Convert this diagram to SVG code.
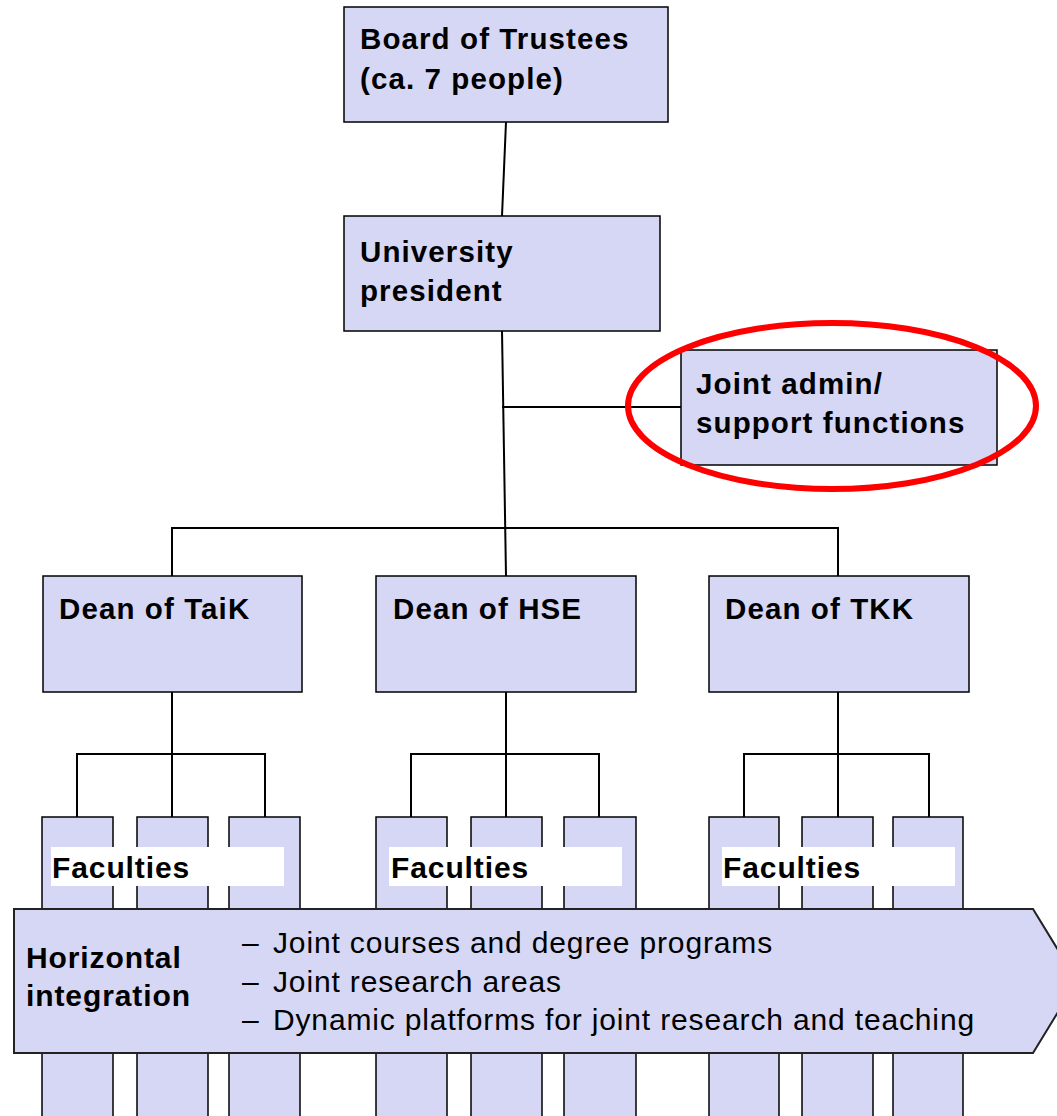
<svg xmlns="http://www.w3.org/2000/svg" width="1057" height="1116" viewBox="0 0 1057 1116">
<style>
.box{fill:#D6D7F4;stroke:#000;stroke-width:1.5}
.fac{fill:#D6D7F4;stroke:#000;stroke-width:1.5}
.lbl{fill:#fff}
.t{font-family:"Liberation Sans",Arial,sans-serif;font-weight:bold;font-size:29.5px;letter-spacing:1.1px;fill:#000}
.tb{font-family:"Liberation Sans",Arial,sans-serif;font-weight:bold;font-size:30px;letter-spacing:0.9px;fill:#000}
.tr{font-family:"Liberation Sans",Arial,sans-serif;font-size:30px;letter-spacing:0.85px;fill:#000}
.c{fill:none;stroke:#000;stroke-width:2}
</style>
<rect width="1057" height="1116" fill="#fff"/>
<g id="connectors">
<line class="c" x1="506" y1="122" x2="502" y2="216"/>
<line class="c" x1="502" y1="331" x2="506" y2="576"/>
<line class="c" x1="502" y1="407" x2="681" y2="407"/>
<polyline class="c" points="172,576 172,528 838,528 838,576"/>
<line class="c" x1="172" y1="692" x2="172" y2="817"/>
<polyline class="c" points="77,817 77,754 265,754 265,817"/>
<line class="c" x1="506" y1="692" x2="506" y2="817"/>
<polyline class="c" points="411,817 411,754 599,754 599,817"/>
<line class="c" x1="838" y1="692" x2="838" y2="817"/>
<polyline class="c" points="744,817 744,754 929,754 929,817"/>
</g>
<g id="board">
<rect class="box" x="344" y="7" width="324" height="115"/>
<text class="t" x="360" y="49">Board of Trustees</text>
<text class="t" x="360" y="89">(ca. 7 people)</text>
</g>
<g id="president">
<rect class="box" x="344" y="216" width="316" height="115"/>
<text class="t" x="360" y="262">University</text>
<text class="t" x="360" y="301">president</text>
</g>
<g id="joint-admin">
<rect class="box" x="681" y="350" width="316" height="115"/>
<text class="t" x="696" y="394">Joint admin/</text>
<text class="t" x="696" y="433">support functions</text>
<ellipse cx="832" cy="406" rx="204" ry="83" fill="none" stroke="#FF0000" stroke-width="6"/>
</g>
<g id="dean-taik">
<rect class="box" x="43" y="576" width="259" height="116"/>
<text class="t" x="59" y="619">Dean of TaiK</text>
</g>
<g id="dean-hse">
<rect class="box" x="376" y="576" width="260" height="116"/>
<text class="t" x="393" y="619">Dean of HSE</text>
</g>
<g id="dean-tkk">
<rect class="box" x="709" y="576" width="260" height="116"/>
<text class="t" x="725" y="619">Dean of TKK</text>
</g>
<g id="faculties-taik">
<rect class="fac" x="42" y="817" width="71" height="320"/>
<rect class="fac" x="137" y="817" width="71" height="320"/>
<rect class="fac" x="229" y="817" width="71" height="320"/>
<rect class="lbl" x="51" y="847" width="233" height="39"/>
<text class="tb" x="52" y="878">Faculties</text>
</g>
<g id="faculties-hse">
<rect class="fac" x="376" y="817" width="71" height="320"/>
<rect class="fac" x="471" y="817" width="71" height="320"/>
<rect class="fac" x="564" y="817" width="72" height="320"/>
<rect class="lbl" x="389" y="847" width="233" height="39"/>
<text class="tb" x="391" y="878">Faculties</text>
</g>
<g id="faculties-tkk">
<rect class="fac" x="709" y="817" width="70" height="320"/>
<rect class="fac" x="802" y="817" width="71" height="320"/>
<rect class="fac" x="893" y="817" width="70" height="320"/>
<rect class="lbl" x="722" y="847" width="233" height="39"/>
<text class="tb" x="723" y="878">Faculties</text>
</g>
<g id="horizontal-integration">
<polygon points="14,909 1033,909 1077,981 1033,1053 14,1053" fill="#D6D7F4" stroke="#222" stroke-width="2"/>
<text class="tb" x="26" y="968">Horizontal</text>
<text class="tb" x="26" y="1006">integration</text>
<text class="tr" x="242" y="953">–</text>
<text class="tr" x="273" y="953">Joint courses and degree programs</text>
<text class="tr" x="242" y="992">–</text>
<text class="tr" x="273" y="992">Joint research areas</text>
<text class="tr" x="242" y="1030">–</text>
<text class="tr" x="273" y="1030">Dynamic platforms for joint research and teaching</text>
</g>
</svg>
